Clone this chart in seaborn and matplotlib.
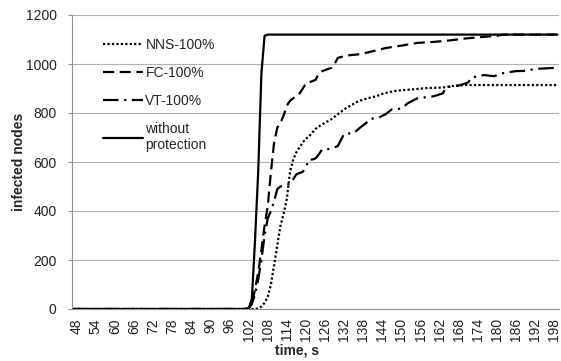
import matplotlib
matplotlib.use("Agg")
import matplotlib.pyplot as plt
import seaborn as sns
import numpy as np
import pandas as pd

# valores
nns_t = [47, 100, 104, 105, 106, 107, 108, 109, 110, 111, 112, 113, 114, 115, 116, 117, 118, 119, 120,
         121, 122, 123, 124, 126, 128, 130, 132, 134, 136, 138, 140, 142, 144, 146, 148, 150, 152, 155,
         158, 163, 166, 170, 199]
nns_v = [0, 0, 0, 2, 10, 25, 50, 100, 180, 260, 340, 390, 450, 560, 610, 640, 660, 680, 695,
         705, 720, 735, 745, 760, 775, 795, 815, 830, 845, 855, 862, 868, 878, 885, 890, 893, 895, 898,
         902, 904, 910, 914, 914]

fc_t = [47, 100, 102, 103, 104, 105, 106, 107, 108, 109, 110, 111, 112, 113, 114, 115, 116, 117, 118,
        119, 120, 121, 122, 123, 124, 125, 127, 128, 129, 130, 133, 137, 140, 145, 150, 155, 160, 165,
        170, 175, 180, 182, 199]
fc_v = [0, 0, 2, 20, 80, 150, 240, 340, 420, 560, 680, 740, 760, 790, 830, 850, 860, 870, 880,
        900, 920, 925, 930, 935, 960, 970, 980, 984, 1000, 1025, 1035, 1040, 1049, 1065, 1075, 1086, 1090, 1096,
        1104, 1110, 1115, 1120, 1120]

vt_t = [47, 100, 102, 103, 104, 105, 106, 107, 108, 109, 110, 111, 112, 113, 114, 115, 116, 117, 118,
        119, 120, 121, 122, 123, 124, 125, 126, 128, 130, 131, 132, 135, 137, 139, 140, 143, 145, 147,
        150, 152, 155, 160, 163, 164, 168, 171, 172, 176, 179, 182, 186, 189, 192, 198, 199]
vt_v = [0, 0, 2, 20, 60, 120, 200, 300, 370, 400, 440, 490, 500, 505, 508, 510, 530, 550, 555,
        560, 580, 610, 610, 615, 630, 650, 650, 655, 665, 690, 715, 718, 740, 760, 775, 782, 795, 815,
        818, 840, 860, 868, 880, 905, 912, 925, 945, 955, 950, 963, 971, 972, 980, 984, 984]

np_t = [47, 100, 101, 102, 103, 104, 105, 106, 107, 108, 199]
np_v = [0, 0, 0, 3, 40, 280, 560, 960, 1115, 1120, 1120]

labels = ["NNS-100%", "FC-100%", "VT-100%", "without\nprotection"]
x_ticks = list(range(48, 199, 6))
y_ticks = list(range(0, 1201, 200))

sns.set_style("white")
plt.rcParams["font.family"] = ["Liberation Sans", "DejaVu Sans"]

fig = plt.figure(figsize=(5.61, 3.61), dpi=100)
ax = fig.add_axes([72 / 561, 1 - 309 / 361, 487 / 561, 294 / 361])

series = [
    (nns_t, nns_v, labels[0], (1, 1)),
    (fc_t, fc_v, labels[1], (5, 2.5)),
    (vt_t, vt_v, labels[2], (7, 2.5, 1, 2.5)),
    (np_t, np_v, labels[3], None),
]
for t, v, lab, dsh in series:
    df = pd.DataFrame({"t": t, "v": v})
    kw = {} if dsh is None else {"dashes": dsh}
    sns.lineplot(data=df, x="t", y="v", ax=ax, color="black", lw=1.6,
                 label=lab, estimator=None, zorder=3, **kw)

ax.set_xlim(46.5, 199.5)
ax.set_ylim(0, 1200)
ax.set_yticks(y_ticks)
ax.set_xticks(x_ticks)
ax.set_xticklabels([str(x) for x in x_ticks], rotation=90)
ax.set_xticks(np.arange(46.5, 199, 10), minor=True)
ax.tick_params(axis="x", which="major", length=0, pad=6.5, labelsize=10, labelcolor="#222222")
ax.tick_params(axis="x", which="minor", length=3, width=0.8, color="#909090", direction="out")
ax.tick_params(axis="y", length=3, width=0.8, color="#909090", pad=8, labelsize=10,
               labelcolor="#222222", left=True)
ax.grid(axis="y", color="#b0b0b0", lw=0.8)
ax.set_axisbelow(True)
for s in ["top", "right"]:
    ax.spines[s].set_visible(False)
for s in ["left", "bottom"]:
    ax.spines[s].set_color("#909090")
    ax.spines[s].set_linewidth(0.8)

ax.set_xlabel("time, s", fontsize=10, fontweight="bold")
ax.set_ylabel("infected nodes", fontsize=10, fontweight="bold")
ax.xaxis.set_label_coords(0.462, -0.117)
ax.yaxis.set_label_coords(-0.095, 0.5)

ax.legend(loc="upper left", bbox_to_anchor=(0.0637, 0.921), frameon=False, fontsize=10,
          handlelength=2.9, handletextpad=0.15, labelspacing=1.0, borderpad=0, borderaxespad=0)

fig.savefig("out.png", dpi=100)
